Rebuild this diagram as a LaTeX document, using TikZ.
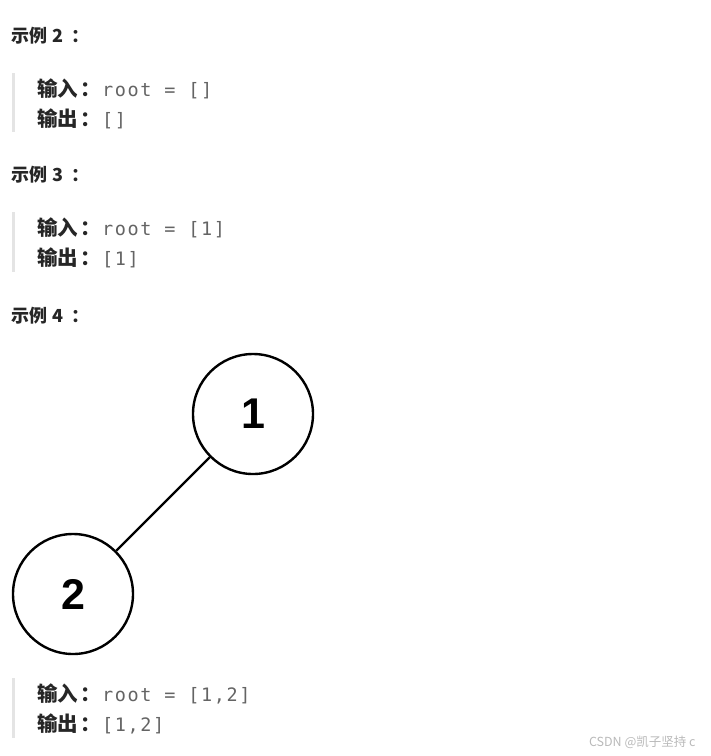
\documentclass[tikz,border=0pt]{standalone}
\usepackage{fontspec}
\newfontfamily\cjk{Noto Sans CJK SC}
\newfontfamily\codefont[LetterSpace=9]{DejaVu Sans Mono}
\newfontfamily\numfont{Liberation Sans}
\definecolor{headc}{RGB}{38,38,38}
\definecolor{labc}{RGB}{38,38,38}
\definecolor{codec}{RGB}{100,100,100}
\definecolor{barc}{RGB}{228,228,228}
\definecolor{wmc}{RGB}{185,185,185}
\newcommand\hcolon{\kern8pt：}
\newcommand\lcolon{\kern3pt：}
\begin{document}
\begin{tikzpicture}[x=1pt,y=-1pt,
  txt/.style={inner sep=0pt,outer sep=0pt,anchor=base west},
  head/.style={txt,font=\cjk\bfseries\fontsize{18}{20}\selectfont,text=headc},
  lab/.style={txt,font=\cjk\bfseries\fontsize{20.5}{24}\selectfont,text=labc},
  code/.style={txt,font=\codefont\fontsize{18.5}{22}\selectfont,text=codec},
  bar/.style={fill=barc,draw=none},
  tnode/.style={circle,draw=black,line width=2.4pt,minimum size=120pt,inner sep=0pt,
    font=\numfont\bfseries\fontsize{43}{43}\selectfont},
  edge/.style={draw=black,line width=2.3pt}]
\useasboundingbox (0,0) rectangle (711,756);
% Example 2
\node[head] (h2) at (12,42.5) {示例 2\hcolon};
\fill[bar] (12,73) rectangle (15,132);
\node[lab] (i2) at (37,96) {输入\lcolon};
\node[code] (ci2) at (102,96) {root = []};
\node[lab] (o2) at (37,126) {输出\lcolon};
\node[code] (co2) at (102,126) {[]};
% Example 3
\node[head] (h3) at (12,181.5) {示例 3\hcolon};
\fill[bar] (12,212) rectangle (15,272);
\node[lab] (i3) at (37,235) {输入\lcolon};
\node[code] (ci3) at (102,235) {root = [1]};
\node[lab] (o3) at (37,265) {输出\lcolon};
\node[code] (co3) at (102,265) {[1]};
% Example 4
\node[head] (h4) at (12,322) {示例 4\hcolon};
\node[tnode] (n1) at (253,414) {1};
\node[tnode] (n2) at (73,594) {2};
\draw[edge] (n1) -- (n2);
\fill[bar] (12,678) rectangle (15,738);
\node[lab] (i4) at (37,701) {输入\lcolon};
\node[code] (ci4) at (102,701) {root = [1,2]};
\node[lab] (o4) at (37,731) {输出\lcolon};
\node[code] (co4) at (102,731) {[1,2]};
% watermark
\node[txt,font=\cjk\fontsize{12.5}{14}\selectfont,text=wmc] (wm) at (589,746) {CSDN @凯子坚持 c};
\end{tikzpicture}
\end{document}
